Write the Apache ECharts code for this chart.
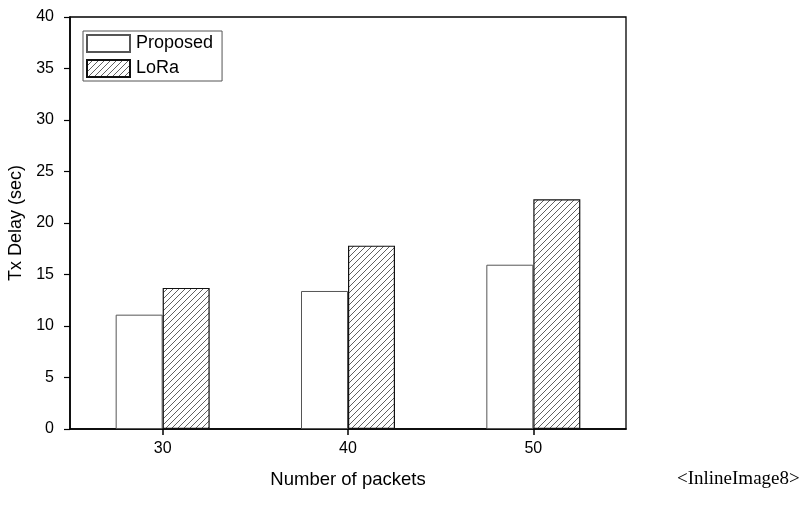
<!DOCTYPE html>
<html>
<head>
<meta charset="utf-8">
<script src="https://cdn.jsdelivr.net/npm/echarts@6/dist/echarts.min.js"></script>
<style>
html,body{margin:0;padding:0;background:#fff;}
#c{width:804px;height:506px;}
</style>
</head>
<body>
<div id="c"></div>
<script>
var categories = [30, 40, 50];
var proposed = [11.1, 13.4, 15.95];
var lora = [13.7, 17.8, 22.3];
var yTicks = [0, 5, 10, 15, 20, 25, 30, 35, 40];

function hatch() {
  var c = document.createElement('canvas');
  c.width = 6; c.height = 6;
  var g = c.getContext('2d');
  g.fillStyle = '#fff';
  g.fillRect(0, 0, 6, 6);
  g.strokeStyle = '#444';
  g.lineWidth = 0.85;
  g.beginPath();
  g.moveTo(-1, 7); g.lineTo(7, -1);
  g.moveTo(-1, 1); g.lineTo(1, -1);
  g.moveTo(5, 7); g.lineTo(7, 5);
  g.stroke();
  return c;
}

function pairs(vals) {
  return categories.map(function (c, i) { return [c, vals[i]]; });
}

var chart = echarts.init(document.getElementById('c'), null, {renderer: 'canvas'});
var font = 'Liberation Sans, Arial, sans-serif';
chart.setOption({
  animation: false,
  backgroundColor: '#fff',
  textStyle: {fontFamily: font},
  grid: {left: 70, right: 178, top: 17, bottom: 77, show: true, borderColor: '#000', borderWidth: 1.3,
         backgroundColor: 'transparent', containLabel: false, outerBoundsMode: 'none'},
  legend: {
    orient: 'vertical', left: 83, top: 31,
    itemWidth: 43, itemHeight: 17, itemGap: 6,
    padding: [3, 9, 3, 3],
    borderColor: '#555', borderWidth: 1,
    icon: 'rect',
    textStyle: {fontSize: 18, lineHeight: 17, color: '#000', fontFamily: font, padding: [0, 0, 0, 1]},
    data: ['Proposed', 'LoRa']
  },
  xAxis: {
    type: 'value', min: 25, max: 55,
    name: 'Number of packets', nameLocation: 'middle', nameGap: 41,
    nameTextStyle: {fontSize: 18.5, color: '#000', fontFamily: font},
    axisLine: {show: true, lineStyle: {color: '#000', width: 1.6}},
    axisTick: {show: true, length: 6, customValues: categories, lineStyle: {color: '#000', width: 1.5}},
    axisLabel: {customValues: categories, fontSize: 16, color: '#000', margin: 12, fontFamily: font},
    splitLine: {show: false}
  },
  yAxis: {
    type: 'value', min: 0, max: 40, interval: 5,
    name: 'Tx Delay (sec)', nameLocation: 'middle', nameGap: 44,
    nameTextStyle: {fontSize: 18, color: '#000', fontFamily: font},
    axisLine: {show: true, lineStyle: {color: '#000', width: 1.6}},
    axisTick: {show: true, length: 6, lineStyle: {color: '#000', width: 1.2}},
    axisLabel: {fontSize: 16, color: '#000', margin: 16, fontFamily: font},
    splitLine: {show: false}
  },
  series: [
    {
      name: 'Proposed', type: 'bar', barWidth: 47, barGap: '0%',
      itemStyle: {color: '#fff', borderColor: '#555', borderWidth: 1},
      data: pairs(proposed)
    },
    {
      name: 'LoRa', type: 'bar', barWidth: 47, barGap: '0%',
      itemStyle: {color: {image: hatch(), repeat: 'repeat'}, borderColor: '#111', borderWidth: 1.2},
      data: pairs(lora)
    }
  ],
  graphic: [{
    type: 'text', left: 677, top: 470,
    style: {text: '<InlineImage8>', fontSize: 19, fill: '#000', fontFamily: 'Liberation Serif, Times New Roman, serif'}
  }]
});
</script>
</body>
</html>
